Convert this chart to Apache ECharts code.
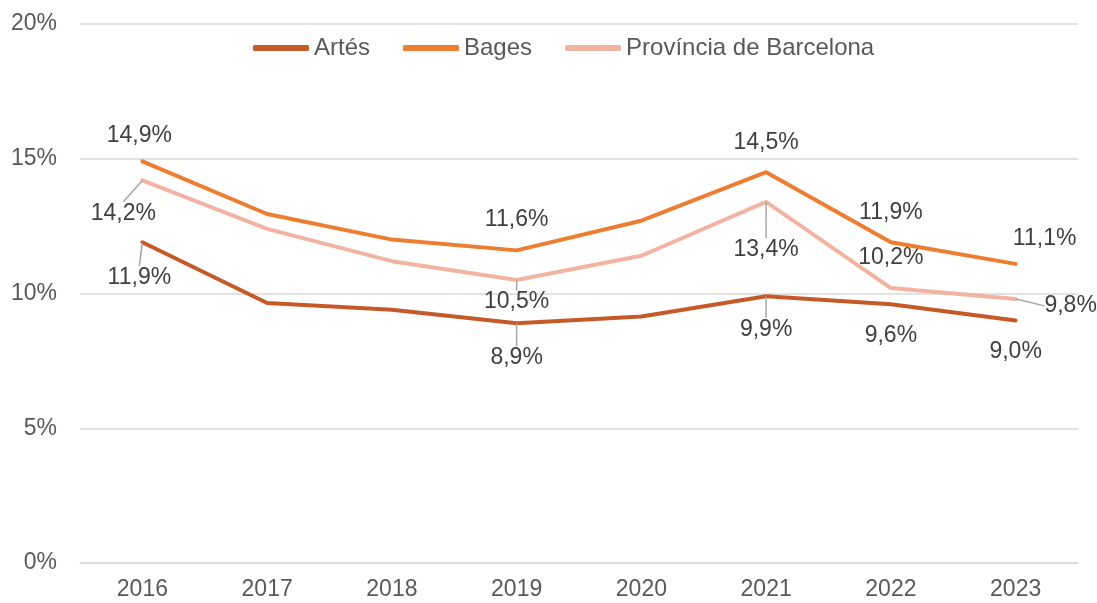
<!DOCTYPE html>
<html><head><meta charset="utf-8">
<script src="https://cdn.jsdelivr.net/npm/echarts@6/dist/echarts.min.js"></script>
<style>html,body{margin:0;padding:0;background:#fff}#c{width:1097px;height:603px}</style>
</head><body><div id="c"></div>
<script>
const years = ['2016','2017','2018','2019','2020','2021','2022','2023'];
const artes = [11.9, 9.65, 9.4, 8.9, 9.15, 9.9, 9.6, 9.0];
const bages = [14.9, 12.95, 12.0, 11.6, 12.7, 14.5, 11.9, 11.1];
const provincia = [14.2, 12.4, 11.2, 10.5, 11.4, 13.4, 10.2, 9.8];
const seriesNames = ['Artés', 'Bages', 'Província de Barcelona'];
const labelledIdx = [0, 3, 5, 6, 7];
const yTicks = [0, 5, 10, 15, 20];

// label offsets (dx, dy) from point, and whether a leader line is drawn
const labelOffsets = [
  {0:[-3,35,1],3:[0,35,1],5:[0,33,1],6:[0,31,0],7:[0,31,0]},
  {0:[-3,-26,0],3:[0,-31,0],5:[0,-30,0],6:[0,-30,0],7:[29,-25,0]},
  {0:[-19,33,1],3:[0,22,1],5:[0,48,1],6:[0,-30,0],7:[55,7,1]}
];
const colors = ['#C55A28', '#ED7D31', '#F2B4A2'];
const fmt = v => v.toFixed(1).replace('.', ',') + '%';
const FONT = 'Liberation Sans';

const allData = [artes, bages, provincia];
const series = allData.map((arr, s) => ({
  name: seriesNames[s],
  type: 'line',
  data: arr.map((v, i) => {
    const lab = labelledIdx.includes(i);
    const off = labelOffsets[s][i];
    return {
      value: v,
      label: {show: lab},
      labelLine: {show: !!(lab && off && off[2])}
    };
  }),
  symbol: 'circle',
  symbolSize: 1,
  showSymbol: true,
  itemStyle: {color: 'rgba(0,0,0,0)'},
  lineStyle: {color: colors[s], width: 4, cap: 'round', join: 'round'},
  label: {
    position: 'inside',
    formatter: p => fmt(p.value),
    fontFamily: FONT,
    fontSize: 23,
    color: '#404040'
  },
  labelLine: {lineStyle: {color: '#A6A6A6', width: 1.5}, smooth: false, length2: 0},
  labelLayout: p => {
    const off = labelOffsets[s][p.dataIndex];
    return off ? {dx: off[0], dy: off[1]} : {};
  },
  z: 3 - s,
  animation: false
}));

const chart = echarts.init(document.getElementById('c'), null, {renderer: 'canvas'});
chart.setOption({
  animation: false,
  color: colors,
  grid: {left: 80, right: 19, top: 24, bottom: 40},
  legend: {
    top: 31,
    left: 248,
    itemWidth: 56,
    itemHeight: 6,
    itemGap: 33,
    icon: 'roundRect',
    textStyle: {fontFamily: FONT, fontSize: 24, color: '#595959'},
    data: seriesNames.map((n, i) => ({name: n, itemStyle: {color: colors[i], opacity: 1}}))
  },
  xAxis: {
    type: 'category',
    data: years,
    boundaryGap: true,
    axisLine: {show: true, lineStyle: {color: '#D9D9D9', width: 1}},
    axisTick: {show: false},
    axisLabel: {fontFamily: FONT, fontSize: 23, color: '#595959', margin: 15}
  },
  yAxis: {
    type: 'value',
    min: yTicks[0],
    max: yTicks[yTicks.length - 1],
    interval: 5,
    axisLine: {show: false},
    axisTick: {show: false},
    splitLine: {lineStyle: {color: '#D9D9D9', width: 1.5}},
    axisLabel: {fontFamily: FONT, fontSize: 23, color: '#595959', margin: 23, formatter: v => v + '%'}
  },
  series: series
});
</script></body></html>
